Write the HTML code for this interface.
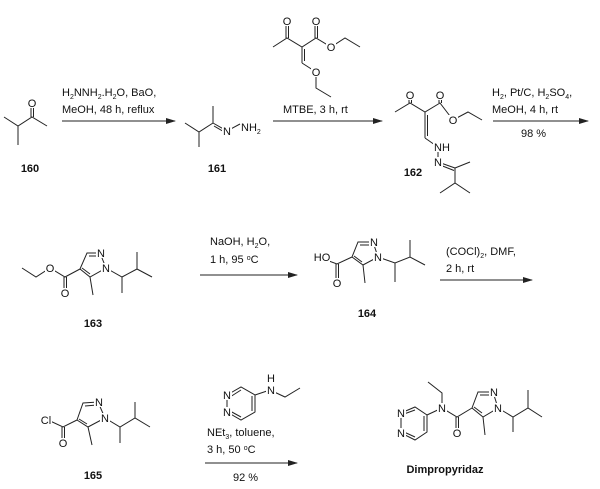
<!DOCTYPE html>
<html><head><meta charset="utf-8"><style>
html,body{margin:0;padding:0;background:#fff;}
svg{display:block;}
text{font-family:"Liberation Sans",Arial,sans-serif;font-size:11px;fill:#111;}
.a{text-anchor:middle;}
.b{font-weight:bold;text-anchor:middle;}
.s{font-size:7px;}
</style></head><body>
<svg width="600" height="489" viewBox="0 0 600 489" xmlns="http://www.w3.org/2000/svg">
<defs><marker id="ah" markerWidth="10" markerHeight="6" refX="9" refY="3" orient="auto" markerUnits="userSpaceOnUse"><path d="M0,0 L10,3 L0,6 Z" fill="#222"/></marker></defs>
<g stroke="#222" stroke-width="1" fill="none">
<!-- 160 -->
<polyline points="4,117 18,126 32,117 47,126"/><line x1="18" y1="126" x2="18" y2="145"/>
<line x1="31" y1="117" x2="31" y2="104"/><line x1="33.5" y1="117" x2="33.5" y2="104"/>
<line x1="62" y1="121" x2="175" y2="121" marker-end="url(#ah)"/>
<!-- 161 -->
<polyline points="185,123 199,132 213,123"/><line x1="199" y1="132" x2="199" y2="147"/>
<line x1="213" y1="123" x2="213" y2="106"/>
<line x1="213" y1="123" x2="227" y2="131"/><line x1="214" y1="126" x2="226" y2="133"/>
<line x1="227" y1="131" x2="240" y2="124"/>
<!-- reagent above arrow 2 -->
<polyline points="273,47 287,38 302,47 316,38 331,47 345,38 360,47"/>
<line x1="286" y1="38" x2="286" y2="22"/><line x1="288.5" y1="38" x2="288.5" y2="22"/>
<line x1="315" y1="38" x2="315" y2="22"/><line x1="317.5" y1="38" x2="317.5" y2="22"/>
<line x1="302" y1="47" x2="302" y2="63"/><line x1="304.5" y1="49" x2="304.5" y2="61"/>
<polyline points="302,63 316,72 316,88 331,97"/>
<line x1="273" y1="121" x2="382" y2="121" marker-end="url(#ah)"/>
<!-- 162 -->
<polyline points="395,112 410,103 425,112 440,103 453,120 468,112 482,120"/>
<line x1="409" y1="103" x2="409" y2="92"/><line x1="411.5" y1="103" x2="411.5" y2="92"/>
<line x1="439" y1="103" x2="439" y2="92"/><line x1="441.5" y1="103" x2="441.5" y2="92"/>
<line x1="425" y1="112" x2="425" y2="138"/><line x1="427.5" y1="115" x2="427.5" y2="136"/>
<line x1="425" y1="138" x2="435" y2="145"/>
<line x1="438" y1="150" x2="438" y2="157"/>
<line x1="438" y1="162" x2="455" y2="168"/><line x1="440" y1="165" x2="454" y2="170.5"/>
<polyline points="455,168 470,162"/><line x1="455" y1="168" x2="455" y2="183"/>
<polyline points="440,193 455,183 470,193"/>
<line x1="493" y1="121" x2="588" y2="121" marker-end="url(#ah)"/>
<!-- 163 -->
<polyline points="22,268 36,277 50,268 65,277 80,269"/>
<line x1="64" y1="277" x2="64" y2="292"/><line x1="66.5" y1="277" x2="66.5" y2="292"/>
<polyline points="80,269 87,253 100,253 106,268 90,277 80,269"/>
<line x1="89" y1="256" x2="99" y2="256"/><line x1="82" y1="268" x2="90" y2="274"/>
<line x1="90" y1="277" x2="93" y2="295"/>
<polyline points="106,268 122,277 137,269 152,277"/><line x1="122" y1="277" x2="122" y2="293"/><line x1="137" y1="269" x2="137" y2="252"/>
<line x1="200" y1="275" x2="297" y2="275" marker-end="url(#ah)"/>
<!-- 164 -->
<polyline points="318,257 337,264 352,257"/>
<line x1="336" y1="264" x2="336" y2="280"/><line x1="338.5" y1="264" x2="338.5" y2="280"/>
<polyline points="352,257 358,242 373,242 378,257 363,265 352,257"/>
<line x1="360" y1="245" x2="372" y2="245"/><line x1="354" y1="256" x2="362" y2="262"/>
<line x1="363" y1="265" x2="365" y2="283"/>
<polyline points="378,257 395,263 410,257 425,265"/><line x1="395" y1="263" x2="395" y2="282"/><line x1="410" y1="257" x2="410" y2="240"/>
<line x1="440" y1="280" x2="532" y2="280" marker-end="url(#ah)"/>
<!-- 165 -->
<polyline points="48,420 63,427 77,420"/>
<line x1="62" y1="427" x2="62" y2="442"/><line x1="64.5" y1="427" x2="64.5" y2="442"/>
<polyline points="77,420 83,403 98,402 105,418 88,427 77,420"/>
<line x1="85" y1="406" x2="97" y2="405"/><line x1="79" y1="419" x2="87" y2="424"/>
<line x1="88" y1="427" x2="92" y2="445"/>
<polyline points="105,418 120,427 135,418 150,427"/><line x1="120" y1="427" x2="120" y2="443"/><line x1="135" y1="418" x2="135" y2="402"/>
<!-- pyridazine reagent -->
<polyline points="227,395 241,387 255,395 255,412 241,420 227,412 227,395"/>
<line x1="230" y1="397" x2="241" y2="390"/><line x1="252" y1="396" x2="252" y2="411"/><line x1="230" y1="411" x2="241" y2="417"/>
<line x1="255" y1="395" x2="270" y2="390"/>
<polyline points="270,390 285,397 300,388"/>
<line x1="205" y1="463" x2="297" y2="463" marker-end="url(#ah)"/>
<!-- Dimpropyridaz -->
<polyline points="401,413 415,407 427,415 427,432 415,440 401,433 401,413"/>
<line x1="404" y1="414" x2="415" y2="410"/><line x1="424" y1="416" x2="424" y2="431"/><line x1="404" y1="432" x2="415" y2="437"/>
<polyline points="427,415 442,408 457,417 472,408"/>
<polyline points="442,408 442,393 428,382"/>
<line x1="456" y1="417" x2="456" y2="432"/><line x1="458.5" y1="417" x2="458.5" y2="432"/>
<polyline points="472,408 478,392 493,392 498,408 483,417 472,408"/>
<line x1="480" y1="395" x2="492" y2="395"/><line x1="474" y1="407" x2="482" y2="413"/>
<line x1="483" y1="417" x2="485" y2="435"/>
<polyline points="498,408 513,417 528,408 542,417"/><line x1="513" y1="417" x2="513" y2="432"/><line x1="528" y1="408" x2="528" y2="390"/>
</g>
<!-- label backgrounds -->
<g fill="#fff">
<rect x="27" y="98" width="10" height="10"/>
<rect x="222" y="126" width="10" height="10"/>
<rect x="282" y="16" width="10" height="10"/><rect x="311" y="16" width="10" height="10"/>
<rect x="326" y="42" width="10" height="10"/><rect x="311" y="67" width="10" height="10"/>
<rect x="405" y="90" width="10" height="10"/><rect x="435" y="90" width="10" height="10"/>
<rect x="448" y="115" width="10" height="10"/>
<rect x="433" y="142" width="18" height="10"/><rect x="433" y="157" width="10" height="10"/>
<rect x="45" y="263" width="10" height="10"/><rect x="60" y="288" width="10" height="10"/>
<rect x="96" y="248" width="10" height="10"/><rect x="101" y="263" width="10" height="10"/>
<rect x="313" y="252" width="17" height="10"/><rect x="332" y="278" width="10" height="10"/>
<rect x="369" y="237" width="10" height="10"/><rect x="373" y="252" width="10" height="10"/>
<rect x="40" y="415" width="12" height="10"/><rect x="58" y="438" width="10" height="10"/>
<rect x="94" y="397" width="10" height="10"/><rect x="100" y="413" width="10" height="10"/>
<rect x="222" y="390" width="10" height="10"/><rect x="222" y="407" width="10" height="10"/>
<rect x="266" y="385" width="10" height="10"/>
<rect x="396" y="408" width="10" height="10"/><rect x="396" y="428" width="10" height="10"/>
<rect x="437" y="403" width="10" height="10"/><rect x="452" y="428" width="10" height="10"/>
<rect x="489" y="387" width="10" height="10"/><rect x="493" y="403" width="10" height="10"/>
</g>
<!-- atom labels -->
<g>
<text class="a" x="32" y="107">O</text>
<text class="a" x="227" y="135">N</text>
<text x="241" y="131">NH<tspan class="s" dy="3">2</tspan></text>
<text class="a" x="287" y="25">O</text><text class="a" x="316" y="25">O</text>
<text class="a" x="331" y="51">O</text><text class="a" x="316" y="76">O</text>
<text class="a" x="410" y="99">O</text><text class="a" x="440" y="99">O</text>
<text class="a" x="453" y="124">O</text>
<text class="a" x="442" y="151">NH</text>
<text class="a" x="438" y="166">N</text>
<text class="a" x="50" y="272">O</text><text class="a" x="65" y="297">O</text>
<text class="a" x="101" y="257">N</text><text class="a" x="106" y="272">N</text>
<text class="a" x="322" y="261">HO</text><text class="a" x="337" y="287">O</text>
<text class="a" x="374" y="246">N</text><text class="a" x="378" y="261">N</text>
<text class="a" x="46" y="424">Cl</text><text class="a" x="63" y="447">O</text>
<text class="a" x="99" y="406">N</text><text class="a" x="105" y="422">N</text>
<text class="a" x="227" y="399">N</text><text class="a" x="227" y="416">N</text>
<text class="a" x="271" y="394">N</text><text class="a" x="271" y="382">H</text>
<text class="a" x="401" y="417">N</text><text class="a" x="401" y="437">N</text>
<text class="a" x="442" y="412">N</text><text class="a" x="457" y="437">O</text>
<text class="a" x="494" y="396">N</text><text class="a" x="498" y="412">N</text>
</g>
<text class="b" x="30" y="172">160</text>
<text class="b" x="217" y="172">161</text>
<text class="b" x="413" y="176">162</text>
<text class="b" x="93" y="327">163</text>
<text class="b" x="367" y="317">164</text>
<text class="b" x="93" y="479">165</text>
<text class="b" x="445" y="473">Dimpropyridaz</text>
<text x="62" y="96">H<tspan class="s" dy="3">2</tspan><tspan dy="-3">NNH</tspan><tspan class="s" dy="3">2</tspan><tspan dy="-3">.H</tspan><tspan class="s" dy="3">2</tspan><tspan dy="-3">O, BaO,</tspan></text>
<text x="62" y="113">MeOH, 48 h, reflux</text>
<text x="283" y="113">MTBE, 3 h, rt</text>
<text x="492" y="96">H<tspan class="s" dy="3">2</tspan><tspan dy="-3">, Pt/C, H</tspan><tspan class="s" dy="3">2</tspan><tspan dy="-3">SO</tspan><tspan class="s" dy="3">4</tspan><tspan dy="-3">,</tspan></text>
<text x="492" y="113">MeOH, 4 h, rt</text>
<text x="521" y="137">98 %</text>
<text x="210" y="245">NaOH, H<tspan class="s" dy="3">2</tspan><tspan dy="-3">O,</tspan></text>
<text x="210" y="263">1 h, 95 <tspan class="s" dy="-3">o</tspan><tspan dy="3">C</tspan></text>
<text x="446" y="255">(COCl)<tspan class="s" dy="3">2</tspan><tspan dy="-3">, DMF,</tspan></text>
<text x="446" y="272">2 h, rt</text>
<text x="207" y="436">NEt<tspan class="s" dy="3">3</tspan><tspan dy="-3">, toluene,</tspan></text>
<text x="207" y="453">3 h, 50 <tspan class="s" dy="-3">o</tspan><tspan dy="3">C</tspan></text>
<text x="233" y="481">92 %</text>
</svg>
</body></html>
